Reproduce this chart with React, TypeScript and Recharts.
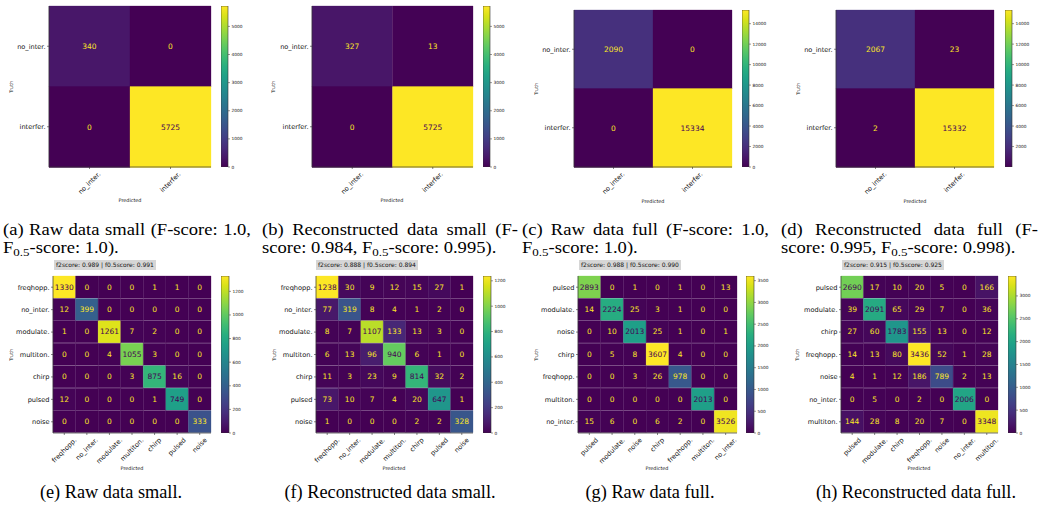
import React from 'react'
import { Bar, BarChart, Cell, LabelList, XAxis, YAxis } from 'recharts'

// Confusion matrices (rows = truth, cols = predicted).
const binLabels = ['no_inter.', 'interfer.']
const rawSmallBin = [
  [340, 0],
  [0, 5725],
]
const recSmallBin = [
  [327, 13],
  [0, 5725],
]
const rawFullBin = [
  [2090, 0],
  [0, 15334],
]
const recFullBin = [
  [2067, 23],
  [2, 15332],
]

const smallLabels = ['freqhopp.', 'no_inter.', 'modulate.', 'multiton.', 'chirp', 'pulsed', 'noise']
const rawSmallMulti = [
  [1330, 0, 0, 0, 1, 1, 0],
  [12, 399, 0, 0, 0, 0, 0],
  [1, 0, 1261, 7, 2, 0, 0],
  [0, 0, 4, 1055, 3, 0, 0],
  [0, 0, 0, 3, 875, 16, 0],
  [12, 0, 0, 0, 1, 749, 0],
  [0, 0, 0, 0, 0, 0, 333],
]
const recSmallMulti = [
  [1238, 30, 9, 12, 15, 27, 1],
  [77, 319, 8, 4, 1, 2, 0],
  [8, 7, 1107, 133, 13, 3, 0],
  [6, 13, 96, 940, 6, 1, 0],
  [11, 3, 23, 9, 814, 32, 2],
  [73, 10, 7, 4, 20, 647, 1],
  [1, 0, 0, 0, 2, 2, 328],
]

const rawFullLabels = ['pulsed', 'modulate.', 'noise', 'chirp', 'freqhopp.', 'multiton.', 'no_inter.']
const rawFullMulti = [
  [2893, 0, 1, 0, 1, 0, 13],
  [14, 2224, 25, 3, 1, 0, 0],
  [0, 10, 2013, 25, 1, 0, 1],
  [0, 5, 8, 3607, 4, 0, 0],
  [0, 0, 3, 26, 978, 0, 0],
  [0, 0, 0, 0, 0, 2013, 0],
  [15, 6, 0, 6, 2, 0, 3526],
]

const recFullLabels = ['pulsed', 'modulate.', 'chirp', 'freqhopp.', 'noise', 'no_inter.', 'multiton.']
const recFullMulti = [
  [2690, 17, 10, 20, 5, 0, 166],
  [39, 2091, 65, 29, 7, 0, 36],
  [27, 60, 1783, 155, 13, 0, 12],
  [14, 13, 80, 3436, 52, 1, 28],
  [4, 1, 12, 186, 789, 2, 13],
  [0, 5, 0, 2, 0, 2006, 0],
  [144, 28, 8, 20, 7, 0, 3348],
]

// colorbar ticks
const ticksSmallBin = [0, 1000, 2000, 3000, 4000, 5000]
const ticksFullBin = [0, 2000, 4000, 6000, 8000, 10000, 12000, 14000]
const ticksRecFullBin = [2000, 4000, 6000, 8000, 10000, 12000, 14000]
const ticksSmallMulti = [0, 200, 400, 600, 800, 1000, 1200]
const ticksRawFullMulti = [0, 500, 1000, 1500, 2000, 2500, 3000, 3500]
const ticksRecFullMulti = [0, 500, 1000, 1500, 2000, 2500, 3000]

const scoreTexts = [
  'f2score: 0.989 | f0.5score: 0.991',
  'f2score: 0.888 | f0.5score: 0.894',
  'f2score: 0.988 | f0.5score: 0.990',
  'f2score: 0.915 | f0.5score: 0.925',
]

// viridis, 17 evenly spaced stops
const VIRIDIS = [
  '#440154', '#48186a', '#472d7b', '#424086', '#3b528b', '#33638d', '#2c728e', '#26828e', '#21918c',
  '#1fa088', '#28ae80', '#3fbc73', '#5ec962', '#84d44b', '#addc30', '#d8e219', '#fde725',
]

function viridis(t: number) {
  const c = Math.max(0, Math.min(1, t)) * (VIRIDIS.length - 1)
  const i = Math.min(Math.floor(c), VIRIDIS.length - 2)
  const f = c - i
  const a = VIRIDIS[i]
  const b = VIRIDIS[i + 1]
  const ch = (s: string, k: number) => parseInt(s.slice(1 + 2 * k, 3 + 2 * k), 16)
  const out = [0, 1, 2].map((k) => Math.round(ch(a, k) + (ch(b, k) - ch(a, k)) * f))
  return `rgb(${out.join(',')})`
}

const FONT = '"DejaVu Sans", sans-serif'
const SERIF = '"Liberation Serif", "Times New Roman", serif'
const INK = '#111'
const EDGE = '#333'
const TICK_FS = 6.6

let measureCtx: CanvasRenderingContext2D | null = null
function textWidth(s: string, size: number) {
  if (!measureCtx) measureCtx = document.createElement('canvas').getContext('2d')
  if (!measureCtx) return s.length * size * 0.58
  measureCtx.font = `${size}px "DejaVu Sans"`
  return measureCtx.measureText(s).width
}

type Box = { x: number; y: number; w: number; h: number }

// matplotlib-style 45° tick label: rotated box centred on the tick, top at y
function XTick(props: any) {
  const { x, y, payload, labels } = props
  const label = labels[Math.floor(payload.value)]
  const L = textWidth(label, TICK_FS)
  const h = TICK_FS * 1.1
  const cy = y + ((L + h) * Math.SQRT1_2) / 2
  return (
    <text
      x={x}
      y={cy}
      transform={`rotate(-45 ${x} ${cy})`}
      textAnchor="middle"
      dominantBaseline="central"
      fontSize={TICK_FS}
      fill={INK}
      fontFamily={FONT}
    >
      {label}
    </text>
  )
}

function Heatmap({ labels, matrix, plot }: { labels: string[]; matrix: number[][]; plot: Box }) {
  const n = labels.length
  const flat = matrix.flat()
  const lo = Math.min(...flat)
  const hi = Math.max(...flat)
  const thresh = (lo + hi) / 2
  const rows = labels.map((lab, i) => {
    const r: Record<string, any> = { row: lab }
    labels.forEach((_, j) => {
      r['c' + j] = 1
      r['v' + j] = matrix[i][j]
    })
    return r
  })
  const centers = labels.map((_, j) => j + 0.5)
  const yW = 48
  const mt = 4
  const mr = 4
  const xH = 44

  const valueLabel = (p: any) => {
    const { x, y, width, height, value } = p
    return (
      <text
        x={x + width / 2}
        y={y + height / 2}
        textAnchor="middle"
        dominantBaseline="central"
        fontSize={7.5}
        fontFamily={FONT}
        fill={value < thresh ? '#fde725' : '#440154'}
      >
        {value}
      </text>
    )
  }

  return (
    <div style={{ position: 'absolute', left: plot.x - yW, top: plot.y - mt }}>
      <BarChart
        width={yW + plot.w + mr}
        height={mt + plot.h + xH}
        data={rows}
        layout="vertical"
        margin={{ top: mt, right: mr, left: 0, bottom: 0 }}
        barCategoryGap={0}
      >
        <XAxis
          type="number"
          domain={[0, n]}
          ticks={centers}
          interval={0}
          height={xH}
          tickSize={2}
          tickMargin={1.5}
          tick={(p: any) => <XTick {...p} labels={labels} />}
          tickLine={{ stroke: EDGE, strokeWidth: 0.6 }}
          axisLine={{ stroke: EDGE, strokeWidth: 0.7 }}
        />
        <XAxis
          xAxisId="top"
          orientation="top"
          type="number"
          domain={[0, n]}
          height={0}
          tick={false}
          tickLine={false}
          axisLine={{ stroke: EDGE, strokeWidth: 0.7 }}
        />
        <YAxis
          type="category"
          dataKey="row"
          width={yW}
          interval={0}
          tickSize={2}
          tickMargin={1.5}
          tick={{ fontSize: TICK_FS, fill: INK, fontFamily: FONT }}
          tickLine={{ stroke: EDGE, strokeWidth: 0.6 }}
          axisLine={{ stroke: EDGE, strokeWidth: 0.7 }}
        />
        <YAxis
          yAxisId="right"
          orientation="right"
          type="category"
          dataKey="row"
          width={0}
          tick={false}
          tickLine={false}
          axisLine={{ stroke: EDGE, strokeWidth: 0.7 }}
        />
        {labels.map((_, j) => (
          <Bar key={j} dataKey={'c' + j} stackId="cm" isAnimationActive={false}>
            {rows.map((_, i) => {
              const c = viridis((matrix[i][j] - lo) / (hi - lo))
              return <Cell key={i} fill={c} stroke={c} strokeWidth={0.3} />
            })}
            <LabelList dataKey={'v' + j} content={valueLabel} />
          </Bar>
        ))}
      </BarChart>
    </div>
  )
}

function ColorBar({ id, matrix, ticks, box }: { id: string; matrix: number[][]; ticks: number[]; box: Box }) {
  const flat = matrix.flat()
  const lo = Math.min(...flat)
  const hi = Math.max(...flat)
  const pad = 4
  const aw = 24
  return (
    <div style={{ position: 'absolute', left: box.x, top: box.y - pad }}>
      <BarChart
        width={box.w + aw}
        height={box.h + 2 * pad}
        data={[{ k: 'cb', span: [lo, hi] }]}
        margin={{ top: pad, bottom: pad, left: 0, right: 0 }}
        barCategoryGap={0}
      >
        <defs>
          <linearGradient id={id} x1="0" y1="1" x2="0" y2="0">
            {VIRIDIS.map((c, i) => (
              <stop key={i} offset={i / (VIRIDIS.length - 1)} stopColor={c} />
            ))}
          </linearGradient>
        </defs>
        <XAxis dataKey="k" type="category" hide />
        <YAxis
          orientation="right"
          type="number"
          domain={[lo, hi]}
          ticks={ticks}
          interval={0}
          allowDataOverflow
          width={aw}
          tickSize={2}
          tickMargin={1.5}
          axisLine={false}
          tickLine={{ stroke: EDGE, strokeWidth: 0.5 }}
          tick={{ fontSize: 4.3, fill: INK, fontFamily: FONT }}
        />
        <Bar dataKey="span" fill={`url(#${id})`} stroke={EDGE} strokeWidth={0.6} isAnimationActive={false} />
      </BarChart>
    </div>
  )
}

function Truth({ x, y }: { x: number; y: number }) {
  return (
    <div
      style={{
        position: 'absolute',
        left: x,
        top: y,
        transform: 'translate(-50%,-50%) rotate(-90deg)',
        fontSize: 4.8,
        fontFamily: FONT,
        color: INK,
        lineHeight: 1,
        whiteSpace: 'nowrap',
      }}
    >
      Truth
    </div>
  )
}

function Predicted({ x, y }: { x: number; y: number }) {
  return (
    <div
      style={{
        position: 'absolute',
        left: x,
        top: y,
        transform: 'translate(-50%,-50%)',
        fontSize: 4.9,
        fontFamily: FONT,
        color: INK,
        lineHeight: 1,
        whiteSpace: 'nowrap',
      }}
    >
      Predicted
    </div>
  )
}

function Score({ x, y, text }: { x: number; y: number; text: string }) {
  return (
    <div
      style={{
        position: 'absolute',
        left: x,
        top: y,
        height: 10,
        lineHeight: '10px',
        padding: '0 2px',
        background: '#d6d6d6',
        fontSize: 6,
        fontFamily: FONT,
        color: INK,
        whiteSpace: 'nowrap',
      }}
    >
      {text}
    </div>
  )
}

const sub = { fontSize: '0.7em', lineHeight: 0, verticalAlign: '-0.25em' } as const
const CAP_STRETCH = 1.16

function TopCaption({ x, w, first, second }: { x: number; w: number; first: string; second: React.ReactNode }) {
  return (
    <div style={{ position: 'absolute', left: x, top: 221, width: w }}>
      <div
        style={{
          width: w / CAP_STRETCH,
          transform: `scaleX(${CAP_STRETCH})`,
          transformOrigin: 'left top',
          fontFamily: SERIF,
          fontSize: 16,
          lineHeight: '18px',
          color: '#000',
        }}
      >
        <div style={{ textAlign: 'justify', textAlignLast: 'justify', whiteSpace: 'nowrap' }}>{first}</div>
        <div style={{ whiteSpace: 'nowrap' }}>{second}</div>
      </div>
    </div>
  )
}

function BottomCaption({ cx, text }: { cx: number; text: string }) {
  return (
    <div
      style={{
        position: 'absolute',
        left: cx - 130,
        top: 481,
        width: 260,
        textAlign: 'center',
        fontFamily: SERIF,
        fontSize: 18.3,
        lineHeight: '22px',
        color: '#000',
      }}
    >
      {text}
    </div>
  )
}

const F05 = (
  <>
    F<span style={sub}>0.5</span>
  </>
)

export default function App() {
  return (
    <div
      style={{
        position: 'absolute',
        left: 0,
        top: 0,
        width: 1041,
        height: 511,
        background: '#fff',
        overflow: 'hidden',
      }}
    >
      {/* top row: binary */}
      <Heatmap labels={binLabels} matrix={rawSmallBin} plot={{ x: 49, y: 6, w: 162, h: 161 }} />
      <ColorBar id="cb-a" matrix={rawSmallBin} ticks={ticksSmallBin} box={{ x: 221, y: 6, w: 7, h: 161 }} />
      <Truth x={12} y={87} />
      <Predicted x={130} y={200} />

      <Heatmap labels={binLabels} matrix={recSmallBin} plot={{ x: 312, y: 6, w: 161, h: 161 }} />
      <ColorBar id="cb-b" matrix={recSmallBin} ticks={ticksSmallBin} box={{ x: 483, y: 6, w: 7, h: 161 }} />
      <Truth x={274} y={87} />
      <Predicted x={392} y={200} />

      <Heatmap labels={binLabels} matrix={rawFullBin} plot={{ x: 574, y: 10, w: 158, h: 157 }} />
      <ColorBar id="cb-c" matrix={rawFullBin} ticks={ticksFullBin} box={{ x: 742, y: 10, w: 7, h: 157 }} />
      <Truth x={537} y={89} />
      <Predicted x={653} y={201} />

      <Heatmap labels={binLabels} matrix={recFullBin} plot={{ x: 836, y: 10, w: 158, h: 157 }} />
      <ColorBar id="cb-d" matrix={recFullBin} ticks={ticksRecFullBin} box={{ x: 1005, y: 10, w: 7, h: 157 }} />
      <Truth x={799} y={89} />
      <Predicted x={915} y={201} />

      <TopCaption x={3} w={248} first="(a) Raw data small (F-score: 1.0," second={<>{F05}-score: 1.0).</>} />
      <TopCaption
        x={262}
        w={256}
        first="(b) Reconstructed data small (F-"
        second={<>score: 0.984, {F05}-score: 0.995).</>}
      />
      <TopCaption x={522} w={247} first="(c) Raw data full (F-score: 1.0," second={<>{F05}-score: 1.0).</>} />
      <TopCaption
        x={781}
        w={257}
        first="(d) Reconstructed data full (F-"
        second={<>score: 0.995, {F05}-score: 0.998).</>}
      />

      {/* bottom row: multi-class */}
      <Score x={54} y={260} text={scoreTexts[0]} />
      <Heatmap labels={smallLabels} matrix={rawSmallMulti} plot={{ x: 53, y: 276, w: 158, h: 157 }} />
      <ColorBar id="cb-e" matrix={rawSmallMulti} ticks={ticksSmallMulti} box={{ x: 221, y: 276, w: 8, h: 157 }} />
      <Truth x={12} y={355} />
      <Predicted x={132} y={468} />

      <Score x={316} y={260} text={scoreTexts[1]} />
      <Heatmap labels={smallLabels} matrix={recSmallMulti} plot={{ x: 316, y: 276, w: 157, h: 157 }} />
      <ColorBar id="cb-f" matrix={recSmallMulti} ticks={ticksSmallMulti} box={{ x: 483, y: 276, w: 8, h: 157 }} />
      <Truth x={275} y={355} />
      <Predicted x={394} y={468} />

      <Score x={579} y={260} text={scoreTexts[2]} />
      <Heatmap labels={rawFullLabels} matrix={rawFullMulti} plot={{ x: 578, y: 276, w: 159, h: 157 }} />
      <ColorBar id="cb-g" matrix={rawFullMulti} ticks={ticksRawFullMulti} box={{ x: 746, y: 276, w: 8, h: 157 }} />
      <Truth x={537} y={355} />
      <Predicted x={657} y={468} />

      <Score x={842} y={260} text={scoreTexts[3]} />
      <Heatmap labels={recFullLabels} matrix={recFullMulti} plot={{ x: 841, y: 276, w: 157, h: 157 }} />
      <ColorBar id="cb-h" matrix={recFullMulti} ticks={ticksRecFullMulti} box={{ x: 1008, y: 276, w: 8, h: 157 }} />
      <Truth x={798} y={355} />
      <Predicted x={919} y={468} />

      <BottomCaption cx={111} text="(e) Raw data small." />
      <BottomCaption cx={390} text="(f) Reconstructed data small." />
      <BottomCaption cx={650} text="(g) Raw data full." />
      <BottomCaption cx={916} text="(h) Reconstructed data full." />
    </div>
  )
}
